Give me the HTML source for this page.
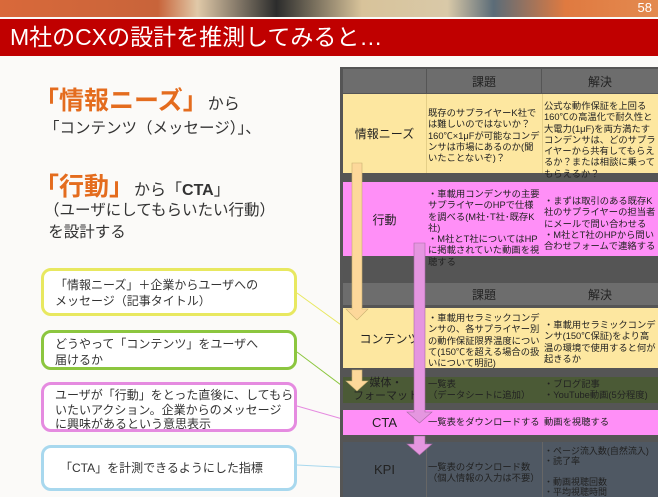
<!DOCTYPE html>
<html><head><meta charset="utf-8"><style>
*{margin:0;padding:0;box-sizing:border-box}
body{width:658px;height:497px;overflow:hidden;background:#fbfaf8;font-family:"Liberation Sans","Noto Sans CJK JP",sans-serif;position:relative}
.a{position:absolute}
.t{font-size:9.3px;line-height:11.3px;color:#222}
.c{display:flex;align-items:center;justify-content:center}
.box{position:absolute;left:41px;width:256px;border:3px solid;border-radius:10px;background:#fff;font-size:12px;line-height:16px;color:#333;padding:6px 11px;white-space:nowrap}
</style></head><body>
<div class="a" style="left:0;top:0;width:658px;height:17px;background:linear-gradient(90deg,#d9693a 0,#c8643a 24%,#e0c9a8 30%,#2c2c2c 42%,#d8c39a 55%,#d9c9a8 68%,#5b6c78 75%,#e07a40 86%,#e38a50 100%)"></div>
<div class="a" style="right:6px;top:0;font-size:13px;color:#fff">58</div>
<div class="a" style="left:0;top:19px;width:658px;height:37px;background:#c00000;color:#fff;font-size:23px;line-height:37px;padding-left:10px">M社のCXの設計を推測してみると…</div>

<div class="a" style="left:34px;top:84px;color:#e46c1e;font-size:25px;line-height:34px;font-weight:bold;white-space:nowrap">「情報ニーズ」<span style="font-size:16px;color:#333;font-weight:normal">から</span></div>
<div class="a" style="left:44px;top:116px;font-size:15.5px;color:#333;white-space:nowrap">「コンテンツ（メッセージ）」、</div>
<div class="a" style="left:34px;top:170px;color:#e46c1e;font-size:25px;line-height:34px;font-weight:bold;white-space:nowrap">「行動」<span style="font-size:16px;color:#333;font-weight:normal">から「<b>CTA</b>」</span></div>
<div class="a" style="left:44px;top:200px;font-size:15.5px;color:#333;line-height:22px;white-space:nowrap">（ユーザにしてもらいたい行動）<br>&nbsp;を設計する</div>

<div class="box" style="top:268px;height:48px;border-color:#e8e860">「情報ニーズ」＋企業からユーザへの<br>メッセージ（記事タイトル）</div>
<div class="box" style="top:330px;height:40px;border-color:#8cc63f;padding-top:3px">どうやって「コンテンツ」をユーザへ<br>届けるか</div>
<div class="box" style="top:382px;height:50px;border-color:#e58be0;padding-top:3px;line-height:14.5px">ユーザが「行動」をとった直後に、してもら<br>いたいアクション。企業からのメッセージ<br>に興味があるという意思表示</div>
<div class="box" style="top:445px;height:46px;border-color:#a8d8ee;padding:12px 16px">「CTA」を計測できるようにした指標</div>

<svg class="a" style="left:0;top:0" width="658" height="497">
<line x1="297" y1="293" x2="355" y2="335" stroke="#e8e860" stroke-width="1"/>
<line x1="297" y1="352" x2="353" y2="394" stroke="#8cc63f" stroke-width="1"/>
<line x1="297" y1="406" x2="353" y2="422" stroke="#e58be0" stroke-width="1"/>
<line x1="297" y1="465" x2="355" y2="468" stroke="#a8d8ee" stroke-width="1"/>
</svg>

<div class="a" style="left:340px;top:67px;width:318px;height:430px;background:#555"></div>
<div class="a" style="left:343px;top:69px;width:83px;height:24px;background:#6d6d6d"></div>
<div class="a c" style="left:427px;top:69px;width:114px;height:24px;background:#6d6d6d;font-size:12px;color:#222">課題</div>
<div class="a c" style="left:542px;top:69px;width:116px;height:24px;background:#6d6d6d;font-size:12px;color:#222">解決</div>
<div class="a" style="left:343px;top:94px;width:315px;height:79px;background:#fde7a0"></div>
<div class="a c" style="left:343px;top:94px;width:83px;height:79px;font-size:12px;color:#222">情報ニーズ</div>
<div class="a" style="left:426px;top:94px;width:1px;height:79px;background:#e5cf88"></div>
<div class="a" style="left:542px;top:94px;width:1px;height:79px;background:#e5cf88"></div>
<div class="a t" style="left:428px;top:108px;width:113px">既存のサプライヤーK社では難しいのではないか？160℃×1μFが可能なコンデンサは市場にあるのか(聞いたことないぞ)？</div>
<div class="a t" style="left:544px;top:101px;width:113px">公式な動作保証を上回る160℃の高温化で耐久性と大電力(1μF)を両方満たすコンデンサは、どのサプライヤーから共有してもらえるか？または相談に乗ってもらえるか？</div>
<div class="a" style="left:343px;top:182px;width:315px;height:74px;background:#ff8ff7"></div>
<div class="a c" style="left:343px;top:182px;width:83px;height:74px;font-size:12px;color:#222">行動</div>
<div class="a t" style="left:428px;top:189px;width:113px">・車載用コンデンサの主要サプライヤーのHPで仕様を調べる(M社･T社･既存K社)<br>・M社とT社についてはHPに掲載されていた動画を視聴する</div>
<div class="a t" style="left:544px;top:196px;width:113px">・まずは取引のある既存K社のサプライヤーの担当者にメールで問い合わせる<br>・M社とT社のHPから問い合わせフォームで連絡する</div>
<div class="a" style="left:343px;top:283px;width:315px;height:22px;background:#6d6d6d"></div>
<div class="a c" style="left:427px;top:283px;width:114px;height:22px;font-size:12px;color:#222">課題</div>
<div class="a c" style="left:542px;top:283px;width:116px;height:22px;font-size:12px;color:#222">解決</div>
<div class="a" style="left:343px;top:308px;width:315px;height:60px;background:#fde7a0"></div>
<div class="a c" style="left:343px;top:308px;width:83px;height:60px;font-size:12px;color:#222;padding-left:10px">コンテンツ</div>
<div class="a t" style="left:428px;top:313px;width:113px">・車載用セラミックコンデンサの、各サプライヤー別の動作保証限界温度について(150℃を超える場合の扱いについて明記)</div>
<div class="a t" style="left:544px;top:320px;width:113px">・車載用セラミックコンデンサ(150℃保証)をより高温の環境で使用すると何が起きるか</div>
<div class="a" style="left:343px;top:377px;width:315px;height:26px;background:#4b5a36"></div>
<div class="a" style="left:346px;top:377px;width:80px;font-size:11px;line-height:12.5px;color:#222;text-align:center">媒体・<br>フォーマット</div>
<div class="a t" style="left:428px;top:379px">一覧表<br>（データシートに追加）</div>
<div class="a t" style="left:544px;top:379px">・ブログ記事<br>・YouTube動画(5分程度)</div>
<div class="a" style="left:343px;top:410px;width:315px;height:25px;background:#ff8ff7"></div>
<div class="a c" style="left:343px;top:410px;width:83px;height:25px;font-size:13px;color:#222">CTA</div>
<div class="a t c" style="left:428px;top:410px;height:25px">一覧表をダウンロードする</div>
<div class="a t c" style="left:544px;top:410px;height:25px">動画を視聴する</div>
<div class="a" style="left:343px;top:442px;width:315px;height:55px;background:#4f5863"></div>
<div class="a c" style="left:343px;top:442px;width:83px;height:55px;font-size:13px;color:#222">KPI</div>
<div class="a" style="left:426px;top:442px;width:1px;height:55px;background:#666"></div>
<div class="a" style="left:542px;top:442px;width:1px;height:55px;background:#666"></div>
<div class="a t" style="left:428px;top:462px">一覧表のダウンロード数<br>（個人情報の入力は不要）</div>
<div class="a t" style="left:544px;top:446px;line-height:10.2px;font-size:9px">・ページ流入数(自然流入)<br>・読了率<br><br>・動画視聴回数<br>・平均視聴時間</div>

<svg class="a" style="left:0;top:0" width="658" height="497">
<polygon points="352,163 362,163 362,309 368,309 357,320 346,309 352,309" fill="#fdd89a" stroke="#c8b070" stroke-width="0.6"/>
<polygon points="352,370 362,370 362,381 368,381 357,391 346,381 352,381" fill="#fdd89a" stroke="#c8b070" stroke-width="0.6"/>
<polygon points="414,243 425,243 425,412 432,412 419.5,423 407,412 414,412" fill="#e596e0" stroke="#a86aa4" stroke-width="0.6"/>
<polygon points="414,436 425,436 425,444 432,444 419.5,455 407,444 414,444" fill="#e596e0" stroke="#a86aa4" stroke-width="0.6"/>
</svg>
</body></html>
